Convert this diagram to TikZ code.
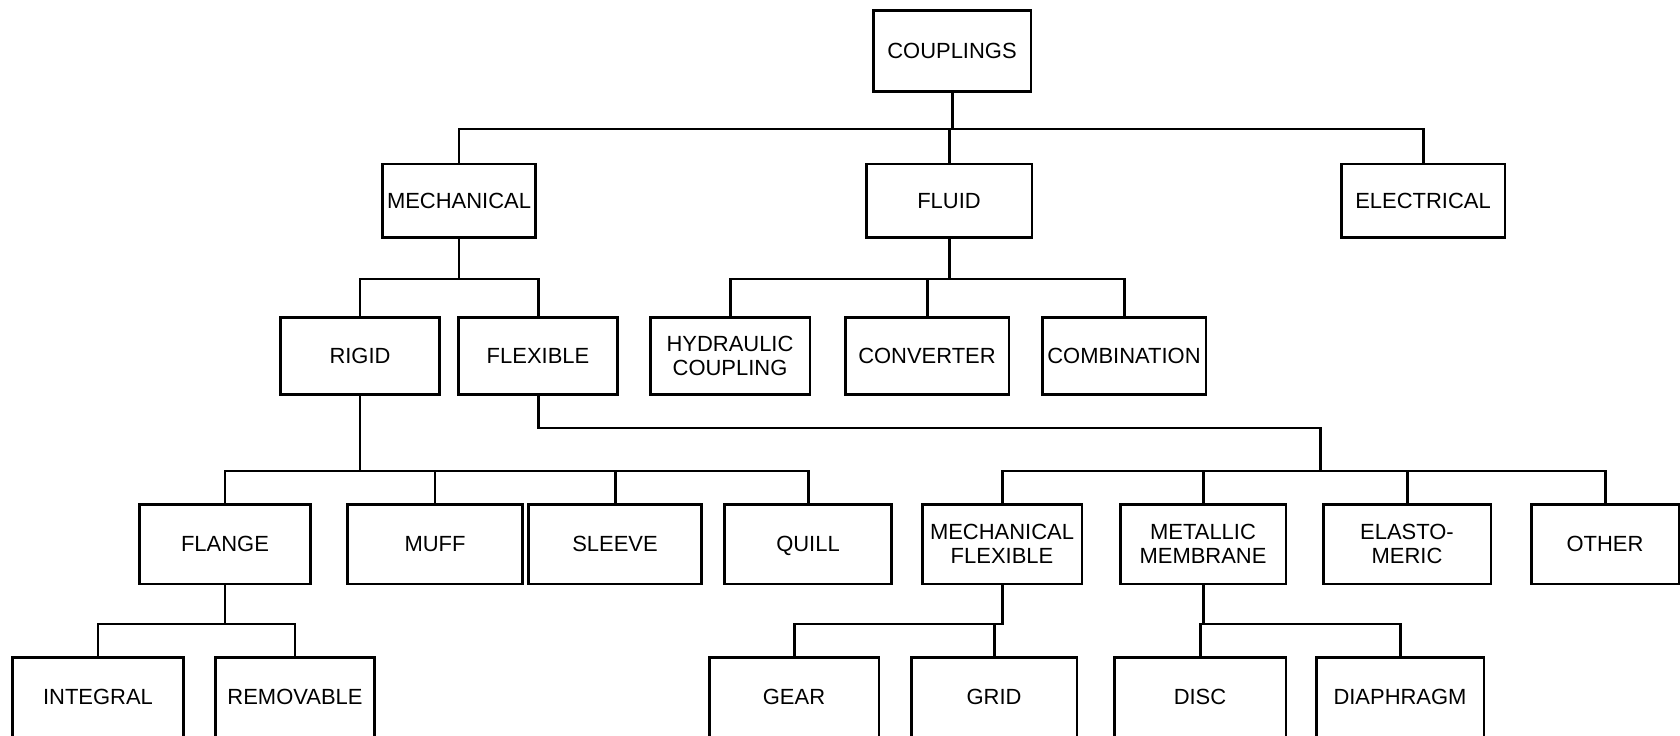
\documentclass[tikz,border=0pt]{standalone}
\usepackage{fontspec}
\setmainfont{Liberation Sans}
\usetikzlibrary{calc}
\tikzset{
    cbox/.style={draw, line width=1.7pt, align=center, inner sep=1pt,
        font=\fontsize{12.5}{14}\selectfont, minimum height=1.55cm, minimum width=3.2cm},
    link/.style={line width=1.7pt}
}

\begin{document}
\begin{tikzpicture}[x=0.02cm, y=-0.02cm]
\useasboundingbox (0,0) rectangle (1680,736);
\node[cbox, minimum width=3.16cm, minimum height=1.62cm] (couplings) at (952,51) {COUPLINGS};
\node[cbox, minimum width=3.08cm, minimum height=1.48cm] (mechanical) at (459,201) {MECHANICAL};
\node[cbox, minimum width=3.32cm, minimum height=1.48cm] (fluid) at (949,201) {FLUID};
\node[cbox, minimum width=3.28cm, minimum height=1.48cm] (electrical) at (1423,201) {ELECTRICAL};
\node[cbox] (rigid) at (360,356) {RIGID};
\node[cbox] (flexible) at (538,356) {FLEXIBLE};
\node[cbox] (hydraulic) at (730,356) {HYDRAULIC\\COUPLING};
\node[cbox, minimum width=3.28cm] (converter) at (927,356) {CONVERTER};
\node[cbox, minimum width=3.28cm] (combination) at (1124,356) {COMBINATION};
\node[cbox, minimum width=3.44cm, minimum height=1.6cm] (flange) at (225,544) {FLANGE};
\node[cbox, minimum width=3.5cm, minimum height=1.6cm] (muff) at (435,544) {MUFF};
\node[cbox, minimum width=3.48cm, minimum height=1.6cm] (sleeve) at (615,544) {SLEEVE};
\node[cbox, minimum width=3.34cm, minimum height=1.6cm] (quill) at (808,544) {\raisebox{0pt}[\height][0pt]{QUILL}};
\node[cbox, minimum height=1.6cm] (mechflex) at (1002,544) {MECHANICAL\\FLEXIBLE};
\node[cbox, minimum width=3.32cm, minimum height=1.6cm] (metmem) at (1203,544) {METALLIC\\MEMBRANE};
\node[cbox, minimum width=3.36cm, minimum height=1.6cm] (elasto) at (1407,544) {ELASTO-\\MERIC};
\node[cbox, minimum width=2.96cm, minimum height=1.6cm] (other) at (1605,544) {OTHER};
\node[cbox, minimum width=3.42cm, minimum height=1.6cm] (integral) at (98,697) {INTEGRAL};
\node[cbox, minimum height=1.6cm] (removable) at (295,697) {REMOVABLE};
\node[cbox, minimum width=3.4cm, minimum height=1.6cm] (gear) at (794,697) {GEAR};
\node[cbox, minimum width=3.32cm, minimum height=1.6cm] (grid) at (994,697) {GRID};
\node[cbox, minimum width=3.44cm, minimum height=1.6cm] (disc) at (1200,697) {DISC};
\node[cbox, minimum width=3.36cm, minimum height=1.6cm] (diaphragm) at (1400,697) {DIAPHRAGM};
\coordinate (bar0) at (0,129);
\coordinate (bar1) at (0,279);
\coordinate (jog) at (0,428);
\coordinate (bar2) at (0,471);
\coordinate (bar3) at (0,624);
\coordinate (hub) at (1320,471);
\foreach \c in {mechanical,fluid,electrical}
    \draw[link] (couplings.south) -- (couplings.south |- bar0) -| (\c.north);
\foreach \c in {rigid,flexible}
    \draw[link] (mechanical.south) -- (mechanical.south |- bar1) -| (\c.north);
\foreach \c in {hydraulic,converter,combination}
    \draw[link] (fluid.south) -- (fluid.south |- bar1) -| (\c.north);
\foreach \c in {flange,muff,sleeve,quill}
    \draw[link] (rigid.south) -- (rigid.south |- bar2) -| (\c.north);
\draw[link] (flexible.south) -- (flexible.south |- jog) -| (hub);
\foreach \c in {mechflex,metmem,elasto,other}
    \draw[link] (hub) -| (\c.north);
\foreach \c in {integral,removable}
    \draw[link] (flange.south) -- (flange.south |- bar3) -| (\c.north);
\foreach \c in {gear,grid}
    \draw[link] (mechflex.south) -- (mechflex.south |- bar3) -| (\c.north);
\foreach \c in {disc,diaphragm}
    \draw[link] (metmem.south) -- (metmem.south |- bar3) -| (\c.north);
\end{tikzpicture}
\end{document}
